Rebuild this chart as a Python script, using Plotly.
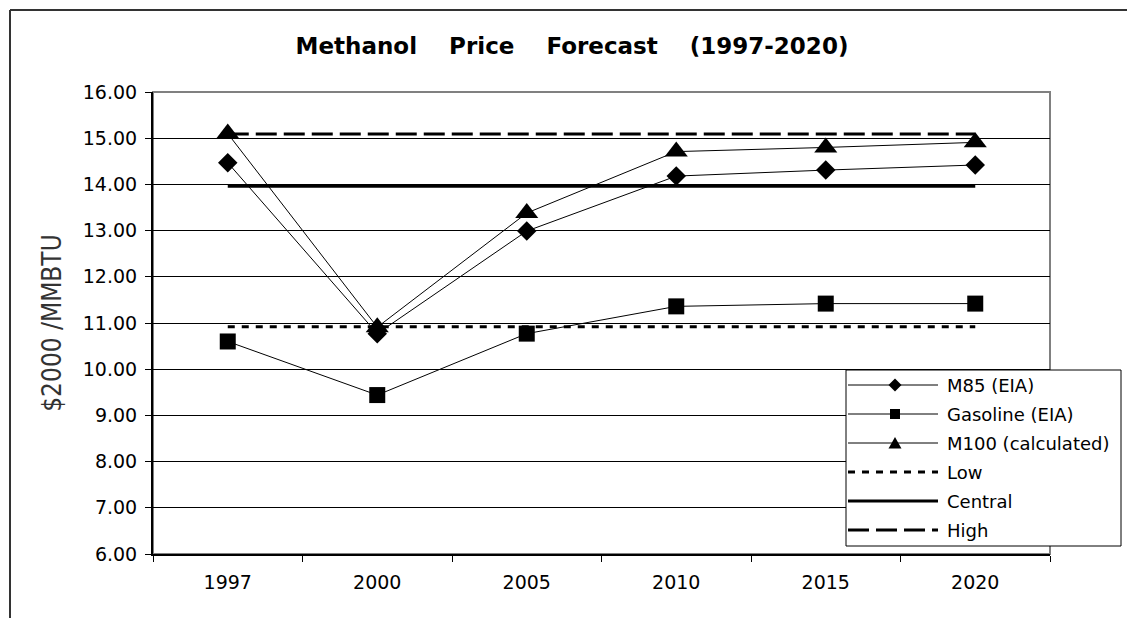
import plotly.graph_objects as go

# ---------------- data ----------------
years = ["1997", "2000", "2005", "2010", "2015", "2020"]
m85 = [14.47, 10.77, 12.99, 14.18, 14.31, 14.42]
gasoline = [10.60, 9.44, 10.77, 11.36, 11.42, 11.42]
m100 = [15.10, 10.91, 13.38, 14.71, 14.80, 14.91]
low = [10.92, 10.92, 10.92, 10.92, 10.92, 10.92]
central = [13.96, 13.96, 13.96, 13.96, 13.96, 13.96]
high = [15.09, 15.09, 15.09, 15.09, 15.09, 15.09]

y_ticks = [6, 7, 8, 9, 10, 11, 12, 13, 14, 15, 16]
y_tick_labels = ["%.2f" % v for v in y_ticks]

series_names = ["M85 (EIA)", "Gasoline (EIA)", "M100 (calculated)", "Low", "Central", "High"]

# ---------------- layout geometry ----------------
W, H = 1127, 618
PL, PR, PT, PB = 153, 1050, 92, 554  # plot area in pixels


def px_x(p):
    return (p - PL) / (PR - PL)


def px_y(p):
    return (PB - p) / (PB - PT)


FONT = "DejaVu Sans"
SP = "\u00a0" * 4

fig = go.Figure()

series = [
    (series_names[0], m85, dict(symbol="diamond", size=15)),
    (series_names[1], gasoline, dict(symbol="square", size=16)),
    (series_names[2], m100, dict(symbol="triangle-up", size=20)),
]
for name, vals, mk in series:
    fig.add_trace(go.Scatter(
        x=years, y=vals, name=name, mode="lines+markers",
        line=dict(color="black", width=1),
        marker=dict(color="black", line=dict(width=0), **mk),
    ))

DASH_LOW = "7px,7px"
DASH_HIGH = "21px,7px"
refs = [
    (series_names[3], low, DASH_LOW),
    (series_names[4], central, "solid"),
    (series_names[5], high, DASH_HIGH),
]
for name, vals, dash in refs:
    fig.add_trace(go.Scatter(
        x=years, y=vals, name=name, mode="lines",
        line=dict(color="black", width=3, dash=dash),
    ))

shapes = [
    # plot-area border (grey)
    dict(type="rect", xref="paper", yref="paper", x0=0, y0=0, x1=1, y1=1,
         line=dict(color="#808080", width=2), layer="below"),
    # outer chart frame (top and left edges visible)
    dict(type="line", xref="paper", yref="paper",
         x0=px_x(10), x1=px_x(W + 5), y0=px_y(10), y1=px_y(10),
         line=dict(color="#333333", width=2)),
    dict(type="line", xref="paper", yref="paper",
         x0=px_x(10), x1=px_x(10), y0=px_y(10), y1=px_y(H + 5),
         line=dict(color="#333333", width=2)),
]

# ---------------- legend (drawn as an Excel-style key) ----------------
LX0, LX1, LY0, LY1 = 846, 1121, 370, 546
ROW0, ROWH = 385, 29
SX0, SX1, SMID, TX = 848, 938, 895, 945

shapes.append(dict(type="rect", xref="paper", yref="paper", layer="above",
                   x0=px_x(LX0), x1=px_x(LX1), y0=px_y(LY1), y1=px_y(LY0),
                   fillcolor="white", line=dict(color="black", width=1)))


def poly(pts):
    return "M " + " L ".join("%.5f,%.5f" % (px_x(a), px_y(b)) for a, b in pts) + " Z"


annotations = []
for k, name in enumerate(series_names):
    yc = ROW0 + k * ROWH
    if k < 3:
        lw, dash = 1, "solid"
    else:
        lw, dash = 3, [DASH_LOW, "solid", DASH_HIGH][k - 3]
    shapes.append(dict(type="line", xref="paper", yref="paper", layer="above",
                       x0=px_x(SX0), x1=px_x(SX1), y0=px_y(yc), y1=px_y(yc),
                       line=dict(color="black", width=lw, dash=dash)))
    if k == 0:
        pts = [(SMID - 6.5, yc), (SMID, yc - 6.5), (SMID + 6.5, yc), (SMID, yc + 6.5)]
    elif k == 1:
        pts = [(SMID - 5, yc - 5), (SMID + 5, yc - 5), (SMID + 5, yc + 5), (SMID - 5, yc + 5)]
    elif k == 2:
        pts = [(SMID - 6.5, yc + 5.5), (SMID, yc - 6), (SMID + 6.5, yc + 5.5)]
    else:
        pts = None
    if pts:
        shapes.append(dict(type="path", xref="paper", yref="paper", layer="above",
                           path=poly(pts), fillcolor="black",
                           line=dict(color="black", width=0)))
    annotations.append(dict(xref="paper", yref="paper", x=px_x(TX), y=px_y(yc),
                            xanchor="left", yanchor="middle", text=name,
                            showarrow=False,
                            font=dict(family=FONT, size=18, color="black")))

fig.update_layout(
    width=W, height=H, autosize=False,
    margin=dict(l=PL, r=W - PR, t=PT, b=H - PB, pad=0),
    paper_bgcolor="white", plot_bgcolor="white",
    font=dict(family=FONT, color="black", size=19),
    showlegend=False,
    title=dict(
        text="Methanol" + SP + "Price" + SP + "Forecast" + SP + "(1997-2020)",
        x=572 / W, xref="container", xanchor="center",
        y=1 - 46 / H, yref="container", yanchor="middle",
        font=dict(family="DejaVu Sans", size=23, color="black", weight="bold"),
    ),
    xaxis=dict(
        type="category", categoryorder="array", categoryarray=years,
        range=[-0.5, 5.5],
        showgrid=False, zeroline=False,
        showline=True, linecolor="black", linewidth=2,
        ticks="outside", ticklen=6, tickwidth=1, tickcolor="black",
        tickson="boundaries",
        tickfont=dict(family=FONT, size=19, color="black"),
        ticklabelstandoff=10,
    ),
    yaxis=dict(
        range=[6, 16], tickvals=y_ticks, ticktext=y_tick_labels,
        showgrid=True, gridcolor="black", gridwidth=1,
        zeroline=False,
        showline=True, linecolor="black", linewidth=2,
        ticks="outside", ticklen=6, tickwidth=1, tickcolor="black",
        tickfont=dict(family=FONT, size=19, color="black"),
        ticklabelstandoff=4,
        title=dict(text="$2000 /MMBTU", standoff=14,
                   font=dict(family="DejaVu Sans Condensed", size=26, color="#333333")),
    ),
    shapes=shapes,
    annotations=annotations,
)

fig.write_html("out.html", config={"displayModeBar": False},
               post_script="document.body.style.margin='0';document.body.style.overflow='hidden';")
